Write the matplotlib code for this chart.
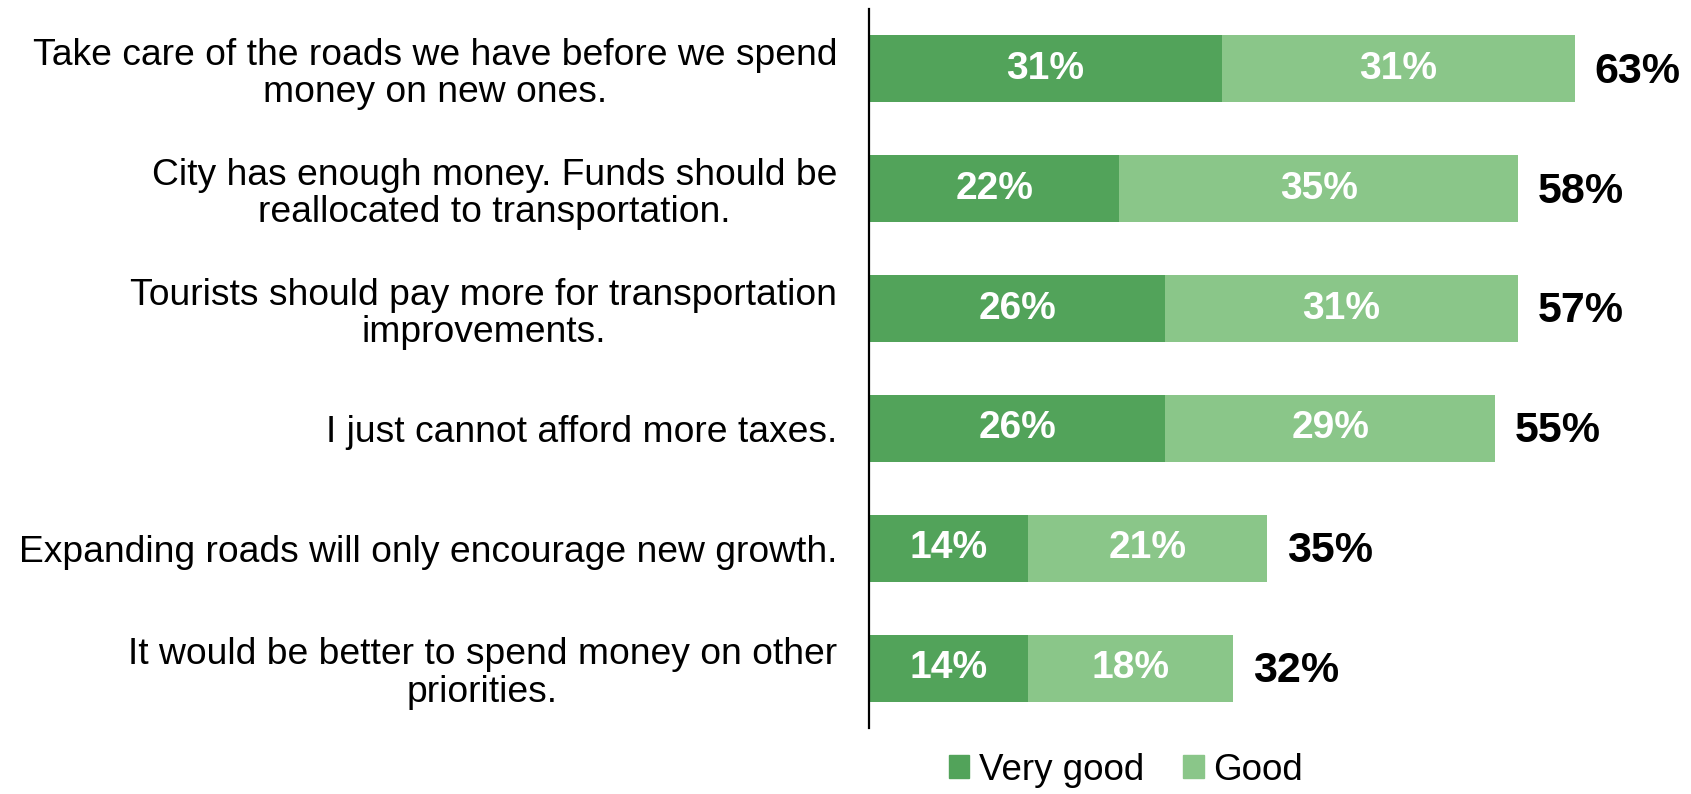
import matplotlib
matplotlib.use("Agg")
import matplotlib.pyplot as plt
from matplotlib.patches import Patch

plt.rcParams['font.family'] = ['Liberation Sans', 'DejaVu Sans']

statements = [
    "Take care of the roads we have before we spend\nmoney on new ones.",
    "City has enough money. Funds should be\nreallocated to transportation.",
    "Tourists should pay more for transportation\nimprovements.",
    "I just cannot afford more taxes.",
    "Expanding roads will only encourage new growth.",
    "It would be better to spend money on other\npriorities.",
]
very_good = [31, 22, 26, 26, 14, 14]
good = [31, 35, 31, 29, 21, 18]
totals = [63, 58, 57, 55, 35, 32]

dark = "#52a35a"
light = "#8ac689"

fig = plt.figure(figsize=(16.91, 7.94), dpi=100)
ax = fig.add_axes([869 / 1691, 66 / 794, 822 / 1691, 719 / 794])

ypos = list(range(len(statements)))
h = 0.56
b1 = ax.barh(ypos, very_good, height=h, color=dark, label="Very good")
b2 = ax.barh(ypos, good, left=very_good, height=h, color=light, label="Good")

# segment values in white, centred on each piece of the bar
for bars, vals in ((b1, very_good), (b2, good)):
    for bar, v in zip(bars, vals):
        ax.text(bar.get_x() + bar.get_width() / 2, bar.get_y() + bar.get_height() / 2,
                f"{v}%", ha="center", va="center", color="white",
                fontsize=28, fontweight="bold")

# totals just past the end of each bar
for y, vg, g, t in zip(ypos, very_good, good, totals):
    ax.annotate(f"{t}%", xy=(vg + g, y), xytext=(14, -2), textcoords="offset points",
                ha="left", va="center", fontsize=31, fontweight="bold", color="black")

ax.set_xlim(0, 72.2)
ax.set_ylim(len(statements) - 0.5, -0.5)
ax.set_yticks(ypos)
ax.set_yticklabels(statements, fontsize=26.8, multialignment="center", linespacing=1.09)
ax.tick_params(axis="y", length=0, pad=23)
ax.set_xticks([])
for side in ("top", "right", "bottom"):
    ax.spines[side].set_visible(False)
ax.spines["left"].set_linewidth(1.6)
ax.spines["left"].set_color("black")

handles = [Patch(color=dark), Patch(color=light)]
fig.legend(handles, ["Very good", "Good"], loc="center",
           bbox_to_anchor=(1126 / 1691, 1 - 770 / 794), ncol=2, frameon=False,
           fontsize=26.5, handlelength=0.55, handleheight=0.55, handletextpad=0.26,
           columnspacing=1.06)

fig.savefig("out.png", dpi=100)
